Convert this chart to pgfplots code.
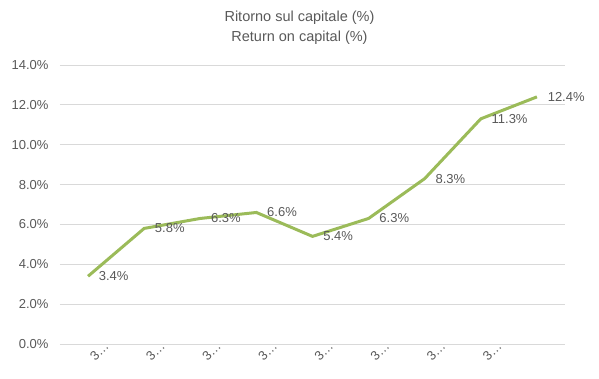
\documentclass[border=0pt]{standalone}
\usepackage{pgfplots}
\pgfplotsset{compat=1.18}
\usepackage{fontspec}
\setmainfont{Liberation Sans}
\definecolor{txt}{HTML}{595959}
\definecolor{gridc}{HTML}{D9D9D9}
\definecolor{ln}{HTML}{9BBB59}
\begin{document}
\begin{tikzpicture}
\path[use as bounding box] (-60pt,-34pt) rectangle (539pt,344pt);
\begin{axis}[
  at={(0pt,0pt)}, anchor=south west,
  scale only axis, width=505pt, height=279pt,
  xmin=-0.5, xmax=8.5, ymin=0, ymax=14,
  ytick={0,2,...,14},
  yticklabel={\pgfmathprintnumber[fixed,fixed zerofill,precision=1]{\tick}\%},
  xtick={0,...,7},
  xticklabels={3…,3…,3…,3…,3…,3…,3…,3…},
  xticklabel style={rotate=45, anchor=center, yshift=-13pt, xshift=3pt},
  yticklabel style={xshift=-8pt},
  ymajorgrids, grid style={gridc, line width=0.75pt},
  axis line style={draw=none},
  major tick length=0pt,
  tick label style={font=\fontsize{13}{15}\selectfont, text=txt},
  /pgf/number format/assume math mode=true,
  nodes near coords={\pgfmathprintnumber[fixed,fixed zerofill,precision=1,assume math mode=true]{\pgfplotspointmeta}\%},
  nodes near coords style={anchor=west, xshift=6pt, font=\fontsize{13}{15}\selectfont, text=txt},
  clip=false,
]
\addplot[ln, line width=3pt, mark=none] coordinates {
  (0,3.4) (1,5.8) (2,6.3) (3,6.6) (4,5.4) (5,6.3) (6,8.3) (7,11.3) (8,12.4)
};
\end{axis}
\node[align=center, text=txt, font=\fontsize{14.5}{20}\selectfont] at (239.5pt,316pt) {Ritorno sul capitale (\%)\\Return on capital (\%)};
\end{tikzpicture}
\end{document}
